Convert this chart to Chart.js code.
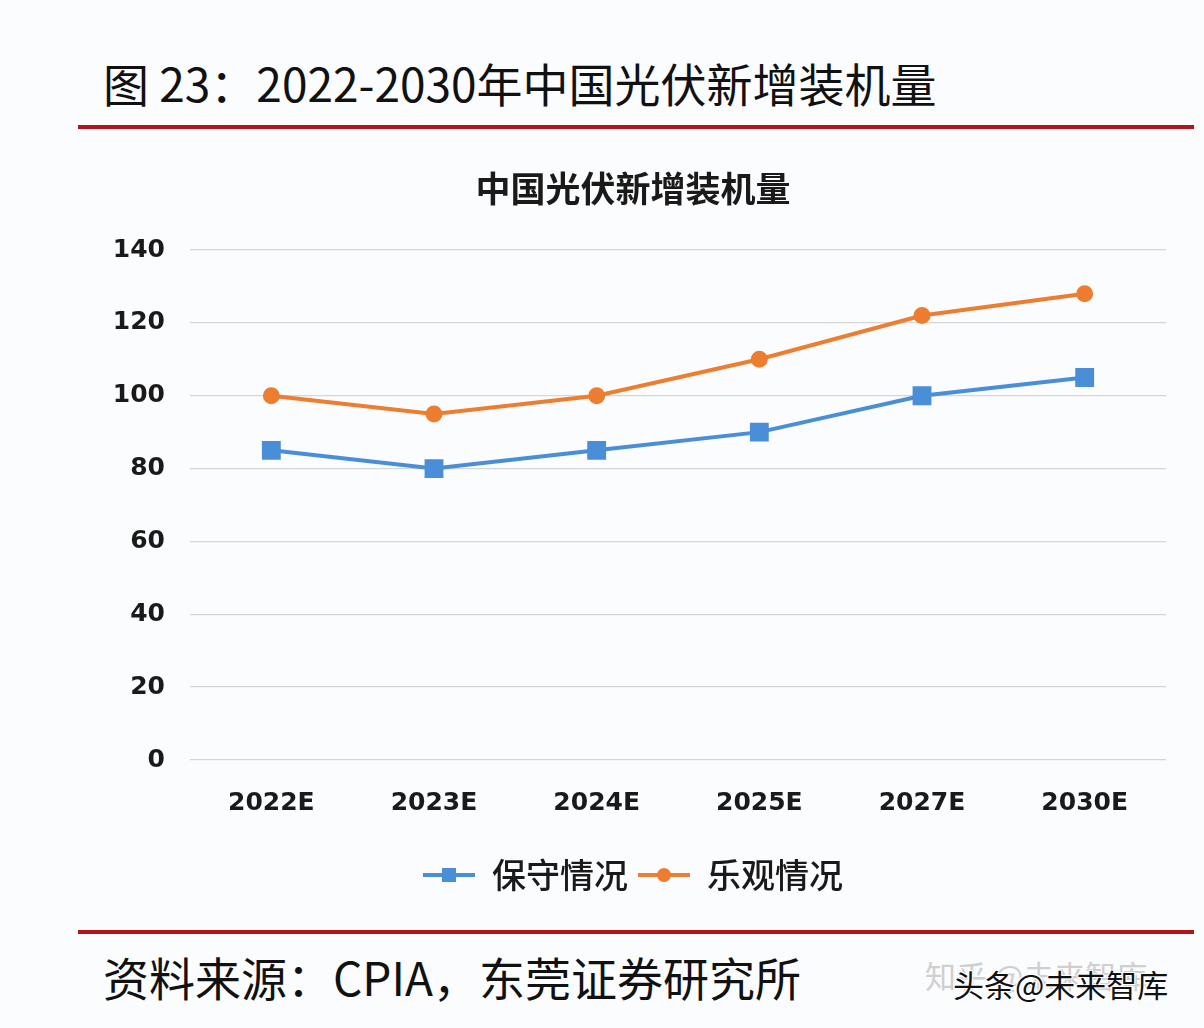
<!DOCTYPE html>
<html><head><meta charset="utf-8">
<script src="https://cdn.jsdelivr.net/npm/chart.js@4/dist/chart.umd.min.js"></script>
<style>
html,body{margin:0;padding:0;background:#fbfcfe;}
body{width:1204px;height:1028px;position:relative;overflow:hidden;font-family:"Noto Sans CJK SC",sans-serif;}
.hdr{position:absolute;left:103px;top:52px;font-size:46px;color:#111;white-space:nowrap;line-height:60px;}
.rule{position:absolute;left:78px;width:1116px;height:4px;background:#b3141a;}
.ftr{position:absolute;left:103px;top:946px;font-size:46px;color:#111;white-space:nowrap;line-height:60px;}
.wm1{position:absolute;left:925px;top:952px;font-size:31px;color:#cfcfcf;white-space:nowrap;}
.wm2{position:absolute;left:953px;top:961px;font-size:31px;color:#111;white-space:nowrap;
  text-shadow:1px 1px 0 #fff,-1px -1px 0 #fff,1px -1px 0 #fff,-1px 1px 0 #fff;}
#wrap{position:absolute;left:0;top:150px;width:1204px;height:760px;}
</style></head>
<body>
<div class="hdr">图 23：2022-2030年中国光伏新增装机量</div>
<div class="rule" style="top:125px"></div>
<div id="wrap"><canvas id="c"></canvas></div>
<div class="rule" style="top:930px"></div>
<div class="ftr">资料来源：CPIA，东莞证券研究所</div>
<div class="wm1">知乎 @未来智库</div>
<div class="wm2">头条@未来智库</div>
<script>
const chartTitle = '中国光伏新增装机量';
const categories = ['2022E','2023E','2024E','2025E','2027E','2030E'];
const seriesNames = ['保守情况','乐观情况'];
const conservative = [85, 80, 85, 90, 100, 105];
const optimistic = [100, 95, 100, 110, 122, 128];
const yMin = 0, yMax = 140, yStep = 20;

const BLUE = '#4a8ed8', ORANGE = '#ed7d31';

function legendIcon(color, shape){
  const c = document.createElement('canvas');
  c.width = 52; c.height = 18;
  const x = c.getContext('2d');
  x.strokeStyle = color; x.lineWidth = 4;
  x.beginPath(); x.moveTo(0,9); x.lineTo(52,9); x.stroke();
  x.fillStyle = color;
  if (shape === 'rect') { x.fillRect(19,2,14,14); }
  else { x.beginPath(); x.arc(26,9,7,0,Math.PI*2); x.fill(); }
  return c;
}
const icons = [legendIcon(BLUE,'rect'), legendIcon(ORANGE,'circle')];
const tickFont = {family: '"DejaVu Sans"', size: 25, weight: 'bold'};

new Chart(document.getElementById('c'), {
  type: 'line',
  data: {
    labels: categories,
    datasets: [
      {label: seriesNames[0], data: conservative, borderColor: BLUE, backgroundColor: BLUE,
       borderWidth: 4, pointStyle: 'rect', pointRadius: 10.5, pointHoverRadius: 10.5, tension: 0},
      {label: seriesNames[1], data: optimistic, borderColor: ORANGE, backgroundColor: ORANGE,
       borderWidth: 4, pointStyle: 'circle', pointRadius: 6.5, pointHoverRadius: 6.5, tension: 0}
    ]
  },
  options: {
    responsive: true, maintainAspectRatio: false, animation: false,
    layout: {padding: {left: 100, right: 38, top: 0, bottom: 8}},
    plugins: {
      title: {display: true, text: chartTitle, color: '#1a1a1a',
        font: {family: '"Noto Sans CJK SC"', size: 35, weight: '600'},
        padding: {top: 18, bottom: 40}},
      legend: {position: 'bottom',
        labels: {usePointStyle: true, pointStyleWidth: 52, padding: 10, color: '#1a1a1a',
          font: {family: '"Noto Sans CJK SC"', size: 34, weight: '500'},
          generateLabels: (chart) => Chart.defaults.plugins.legend.labels.generateLabels(chart)
            .map((l,i) => Object.assign(l, {pointStyle: icons[i]}))}},
      tooltip: {enabled: false}
    },
    scales: {
      x: {offset: true,
        grid: {display: false, drawTicks: false},
        border: {display: false},
        ticks: {padding: 28, color: '#1a1a1a', font: tickFont},
        afterFit: (s) => { s.height = 88; }},
      y: {min: yMin, max: yMax,
        grid: {color: '#d6d6d6', lineWidth: 1.3, drawTicks: false},
        border: {display: false},
        ticks: {stepSize: yStep, padding: 25, color: '#1a1a1a', font: tickFont},
        afterFit: (s) => { s.width = 90; }}
    }
  }
});
</script>
</body></html>
